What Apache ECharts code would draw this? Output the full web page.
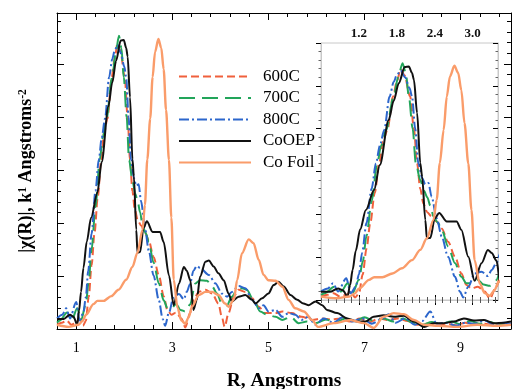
<!DOCTYPE html>
<html>
<head>
<meta charset="utf-8">
<script src="https://cdn.jsdelivr.net/npm/echarts@6/dist/echarts.min.js"></script>
<style>html,body{margin:0;padding:0;background:#fff;}#c{width:513px;height:389px;}</style>
</head>
<body>
<div id="c"></div>
<script>
// ---- data (R in Angstroms, |chi(R)| in major-tick units) ----
const seriesNames = ['600C', '700C', '800C', 'CoOEP', 'Co Foil'];
const xMajorTicks = [1, 3, 5, 7, 9];
const insetTicks = [1.2, 1.8, 2.4, 3.0];

const d600 = [[0.6,0.08],[0.7,0.12],[0.8,0.16],[0.9,0.08],[1.0,0.12],[1.07,0.2],[1.14,0.06],[1.2,0.15],[1.26,0.6],[1.32,1.2],[1.38,1.8],[1.45,2.5],[1.52,3.19],[1.58,3.7],[1.65,3.97],[1.74,4.75],[1.8,5.1],[1.86,5.39],[1.92,5.25],[2.01,4.75],[2.07,4.0],[2.12,3.19],[2.17,2.6],[2.22,2.25],[2.28,2.05],[2.35,1.95],[2.43,1.83],[2.51,1.67],[2.61,1.36],[2.72,1.01],[2.82,0.62],[2.9,0.35],[2.98,0.27],[3.08,0.31],[3.19,0.2],[3.27,0.03],[3.37,0.3],[3.44,0.55],[3.55,0.7],[3.69,0.74],[3.83,0.67],[3.96,0.48],[4.03,0.23],[4.09,0.04],[4.17,0.3],[4.28,0.61],[4.38,0.74],[4.52,0.7],[4.66,0.58],[4.8,0.42],[4.93,0.3],[5.15,0.3],[5.29,0.33],[5.49,0.3],[5.69,0.23],[5.91,0.17],[6.12,0.2],[6.3,0.18],[6.5,0.2],[6.7,0.14],[6.9,0.2],[7.1,0.13],[7.3,0.2],[7.5,0.17],[7.7,0.2],[7.9,0.15],[8.1,0.08],[8.3,0.1],[8.5,0.06],[8.7,0.1],[8.9,0.07],[9.1,0.12],[9.3,0.08],[9.5,0.1],[9.7,0.07],[9.9,0.1],[10.05,0.08]];

const d700 = [[0.6,0.12],[0.66,0.16],[0.81,0.31],[0.92,0.2],[1.02,0.39],[1.1,0.16],[1.2,0.47],[1.26,0.9],[1.32,1.5],[1.4,2.3],[1.49,3.19],[1.55,3.6],[1.63,3.97],[1.75,4.75],[1.82,5.2],[1.89,5.53],[1.94,5.3],[1.99,4.75],[2.05,4.0],[2.1,3.19],[2.17,2.8],[2.23,2.55],[2.28,2.4],[2.33,2.2],[2.38,1.95],[2.45,1.8],[2.51,1.64],[2.61,1.25],[2.72,0.86],[2.82,0.54],[2.9,0.39],[2.98,0.39],[3.08,0.47],[3.17,0.36],[3.27,0.33],[3.37,0.46],[3.48,0.86],[3.58,0.92],[3.72,0.91],[3.83,0.8],[3.93,0.67],[4.03,0.48],[4.14,0.45],[4.24,0.61],[4.35,0.74],[4.45,0.77],[4.55,0.74],[4.69,0.55],[4.83,0.33],[4.97,0.27],[5.15,0.23],[5.29,0.17],[5.46,0.23],[5.63,0.11],[5.8,0.14],[5.98,0.11],[6.2,0.18],[6.4,0.12],[6.6,0.2],[6.8,0.15],[7.0,0.22],[7.2,0.15],[7.4,0.2],[7.6,0.14],[7.8,0.2],[8.0,0.12],[8.2,0.08],[8.4,0.13],[8.6,0.1],[8.8,0.14],[9.0,0.09],[9.2,0.15],[9.4,0.1],[9.6,0.13],[9.8,0.09],[10.05,0.12]];

const d800 = [[0.6,0.2],[0.71,0.27],[0.79,0.39],[0.87,0.2],[1.0,0.51],[1.07,0.16],[1.15,0.31],[1.2,0.6],[1.25,1.1],[1.32,1.8],[1.4,2.6],[1.47,3.19],[1.53,3.6],[1.6,3.97],[1.685,4.75],[1.75,5.09],[1.8,5.25],[1.86,5.36],[1.93,5.2],[2.0,4.95],[2.04,4.75],[2.09,4.0],[2.14,3.19],[2.2,2.85],[2.25,2.7],[2.3,2.73],[2.35,2.41],[2.43,1.91],[2.51,1.48],[2.61,1.01],[2.72,0.54],[2.8,0.19],[2.85,0.06],[2.93,0.31],[3.03,0.62],[3.14,0.66],[3.24,0.56],[3.3,0.7],[3.37,0.85],[3.44,1.1],[3.51,1.19],[3.58,1.15],[3.76,1.02],[3.9,0.86],[4.03,0.67],[4.14,0.61],[4.24,0.7],[4.38,0.81],[4.52,0.77],[4.66,0.55],[4.8,0.39],[4.9,0.45],[5.0,0.33],[5.15,0.36],[5.29,0.23],[5.42,0.3],[5.56,0.27],[5.69,0.17],[5.83,0.23],[5.98,0.08],[6.15,0.2],[6.35,0.12],[6.55,0.22],[6.75,0.14],[6.95,0.2],[7.15,0.1],[7.35,0.18],[7.5,0.28],[7.65,0.12],[7.85,0.2],[8.05,0.08],[8.2,0.15],[8.37,0.33],[8.5,0.1],[8.7,0.12],[8.9,0.06],[9.1,0.12],[9.3,0.1],[9.5,0.16],[9.7,0.08],[9.9,0.12],[10.05,0.1]];

const dCoOEP = [[0.6,0.19],[0.74,0.19],[0.87,0.27],[0.945,0.23],[1.02,0.08],[1.06,0.35],[1.1,0.7],[1.15,1.15],[1.22,1.65],[1.31,2.1],[1.44,2.57],[1.53,3.15],[1.67,4.2],[1.75,4.65],[1.83,5.06],[1.925,5.44],[1.99,5.45],[2.04,5.3],[2.07,5.14],[2.12,4.37],[2.17,3.2],[2.2,2.88],[2.25,1.87],[2.275,1.44],[2.33,1.45],[2.4,1.91],[2.47,2.03],[2.59,1.83],[2.745,1.83],[2.82,1.64],[2.93,1.01],[3.03,0.45],[3.14,0.86],[3.24,1.17],[3.3,1.1],[3.375,0.92],[3.44,0.36],[3.51,0.55],[3.58,0.99],[3.69,1.27],[3.76,1.29],[3.86,1.18],[3.96,1.05],[4.07,0.92],[4.17,0.67],[4.24,0.52],[4.38,0.61],[4.52,0.64],[4.66,0.55],[4.73,0.48],[4.87,0.58],[5.0,0.67],[5.11,0.83],[5.21,0.89],[5.32,0.8],[5.46,0.64],[5.6,0.55],[5.73,0.48],[5.84,0.45],[5.98,0.52],[6.12,0.45],[6.22,0.36],[6.43,0.3],[6.64,0.2],[6.85,0.14],[7.02,0.14],[7.19,0.23],[7.4,0.26],[7.61,0.23],[7.82,0.25],[8.03,0.14],[8.24,0.04],[8.44,0.11],[8.65,0.11],[8.86,0.14],[9.07,0.2],[9.28,0.16],[9.49,0.17],[9.69,0.11],[9.9,0.12],[10.05,0.14]];

const dFoil = [[0.6,0.08],[0.84,0.04],[1.05,0.08],[1.13,0.15],[1.205,0.27],[1.36,0.47],[1.44,0.53],[1.57,0.53],[1.73,0.62],[1.88,0.74],[2.04,0.93],[2.17,1.17],[2.275,1.44],[2.38,1.87],[2.43,2.34],[2.48,3.2],[2.54,3.97],[2.59,4.75],[2.64,5.22],[2.71,5.47],[2.77,5.3],[2.82,4.9],[2.87,4.13],[2.93,3.19],[2.98,2.1],[3.03,0.93],[3.11,0.39],[3.19,0.16],[3.27,0.1],[3.34,0.22],[3.41,0.42],[3.55,0.64],[3.69,0.7],[3.83,0.7],[3.96,0.64],[4.1,0.48],[4.17,0.42],[4.28,0.55],[4.35,0.92],[4.45,1.43],[4.59,1.69],[4.69,1.62],[4.8,1.3],[4.9,1.02],[5.0,0.92],[5.15,0.91],[5.29,0.8],[5.42,0.55],[5.56,0.39],[5.74,0.33],[5.91,0.17],[6.03,0.04],[6.36,0.11],[6.71,0.17],[6.99,0.11],[7.19,0.02],[7.4,0.23],[7.61,0.3],[7.82,0.28],[8.03,0.17],[8.24,0.08],[8.54,0.06],[8.93,0.04],[9.35,0.08],[9.76,0.06],[10.05,0.08]];

const seriesData = [d600, d700, d800, dCoOEP, dFoil];

// ---- styles ----
const colors = ['#f0603c', '#22a55a', '#2c66cc', '#111111', '#fa9c6a'];
const dashes = [[8, 4], [16, 7], [10, 3, 2, 3], 'solid', 'solid'];
const widths = [2, 2, 2, 2, 2.4];
const SERIF = 'Liberation Serif';

function stepList(start, step, count) {
  const out = [];
  for (let k = 0; k < count; k++) out.push(Math.round((start + step * k) * 1000) / 1000);
  return out;
}
const xMinor = stepList(0.6, 0.4, 24);
const insetMinor = stepList(0.6, 0.12, 24);

const chart = echarts.init(document.getElementById('c'), null, {renderer: 'canvas'});

function xAx(grid, pos, min, max, ticks, len, color, opts) {
  return Object.assign({
    type: 'value', gridIndex: grid, position: pos, min: min, max: max,
    axisLine: {show: false},
    axisTick: {show: true, inside: true, length: len, customValues: ticks, lineStyle: {color: color, width: 1}},
    axisLabel: {show: false},
    splitLine: {show: false}
  }, opts || {});
}

const series = [];
seriesNames.forEach((n, i) => {
  [[0, 0], [4, 2]].forEach(([xi, yi]) => {
    series.push({
      name: n, type: 'line', xAxisIndex: xi, yAxisIndex: yi,
      data: seriesData[i], showSymbol: false, symbol: 'none',
      smooth: 0.3, smoothMonotone: 'x', clip: true,
      lineStyle: {color: colors[i], width: widths[i], type: dashes[i]},
      itemStyle: {color: colors[i]},
      z: 3 + i
    });
  });
});

const option = {
  animation: false,
  backgroundColor: '#fff',
  grid: [
    {left: 57, top: 13, width: 454, height: 316, outerBoundsMode: 'none', containLabel: false},
    {left: 321, top: 43, width: 177, height: 257, outerBoundsMode: 'none', containLabel: false,
      show: true, backgroundColor: '#fff', borderColor: '#c8c8c8', borderWidth: 1}
  ],
  legend: {
    data: seriesNames, orient: 'vertical', left: 173, top: 63,
    itemWidth: 72, itemHeight: 14, itemGap: 4.5,
    itemStyle: {color: 'rgba(0,0,0,0)', borderWidth: 0, opacity: 0},
    textStyle: {fontFamily: SERIF, fontSize: 17, color: '#000', padding: [0, 0, 0, 7]}
  },
  xAxis: [
    xAx(0, 'bottom', 0.6, 10.05, xMajorTicks, 7, '#000', {
      axisLine: {show: true, lineStyle: {color: '#000', width: 1}},
      axisLabel: {show: true, customValues: xMajorTicks, margin: 12, fontFamily: SERIF, fontSize: 14, color: '#000'},
      name: 'R, Angstroms', nameLocation: 'middle', nameGap: 42,
      nameTextStyle: {fontFamily: SERIF, fontWeight: 'bold', fontSize: 19.5, color: '#000'}
    }),
    xAx(0, 'bottom', 0.6, 10.05, xMinor, 4, '#000'),
    xAx(0, 'top', 0.6, 10.05, xMajorTicks, 7, '#000', {axisLine: {show: true, lineStyle: {color: '#000', width: 1}}}),
    xAx(0, 'top', 0.6, 10.05, xMinor, 4, '#000'),
    xAx(1, 'top', 0.6, 3.4, insetTicks, 5, '#000', {
      axisLine: {show: true, lineStyle: {color: '#c8c8c8', width: 1}},
      axisLabel: {show: true, customValues: insetTicks, margin: 3, fontFamily: SERIF, fontWeight: 'bold', fontSize: 13, color: '#111',
        formatter: v => Number(v).toFixed(1)}
    }),
    xAx(1, 'top', 0.6, 3.4, insetMinor, 3, '#555'),
    xAx(1, 'bottom', 0.6, 3.4, insetTicks, 5, '#000', {axisLine: {show: true, lineStyle: {color: '#c8c8c8', width: 1}}}),
    xAx(1, 'bottom', 0.6, 3.4, insetMinor, 3, '#555')
  ],
  yAxis: [
    {
      type: 'value', gridIndex: 0, position: 'left', min: 0, max: 5.96, interval: 1,
      axisLine: {show: true, lineStyle: {color: '#000', width: 1}},
      axisTick: {show: true, inside: true, length: 7, lineStyle: {color: '#000'}},
      minorTick: {show: true, splitNumber: 5, length: 4, lineStyle: {color: '#000'}},
      axisLabel: {show: false}, splitLine: {show: false}, minorSplitLine: {show: false},
      name: '{b||χ(R)|, k}{s|1}{b| Angstroms}{s|-2}',
      nameLocation: 'middle', nameRotate: 90, nameGap: 22,
      nameTextStyle: {
        rich: {
          b: {fontFamily: SERIF, fontWeight: 'bold', fontSize: 18, color: '#000'},
          s: {fontFamily: SERIF, fontWeight: 'bold', fontSize: 11.5, color: '#000', verticalAlign: 'top'}
        }
      }
    },
    {
      type: 'value', gridIndex: 0, position: 'right', min: 0, max: 5.96, interval: 1,
      axisLine: {show: true, lineStyle: {color: '#000', width: 1}},
      axisTick: {show: true, inside: true, length: 7, lineStyle: {color: '#000'}},
      minorTick: {show: true, splitNumber: 5, length: 4, lineStyle: {color: '#000'}},
      axisLabel: {show: false}, splitLine: {show: false}, minorSplitLine: {show: false}
    },
    {
      type: 'value', gridIndex: 1, position: 'left', min: 0, max: 6, interval: 1,
      axisLine: {show: true, lineStyle: {color: '#c8c8c8', width: 1}},
      axisTick: {show: true, inside: false, length: 5, lineStyle: {color: '#000'}},
      minorTick: {show: true, splitNumber: 5, length: 2.5, lineStyle: {color: '#666'}},
      axisLabel: {show: false}, splitLine: {show: false}, minorSplitLine: {show: false}
    },
    {
      type: 'value', gridIndex: 1, position: 'right', min: 0, max: 6, interval: 1,
      axisLine: {show: true, lineStyle: {color: '#c8c8c8', width: 1}},
      axisTick: {show: true, inside: true, length: 5, lineStyle: {color: '#000'}},
      minorTick: {show: true, splitNumber: 5, length: 2.5, lineStyle: {color: '#666'}},
      axisLabel: {show: false}, splitLine: {show: false}, minorSplitLine: {show: false}
    }
  ],
  series: series
};
chart.setOption(option);
</script>
</body>
</html>
